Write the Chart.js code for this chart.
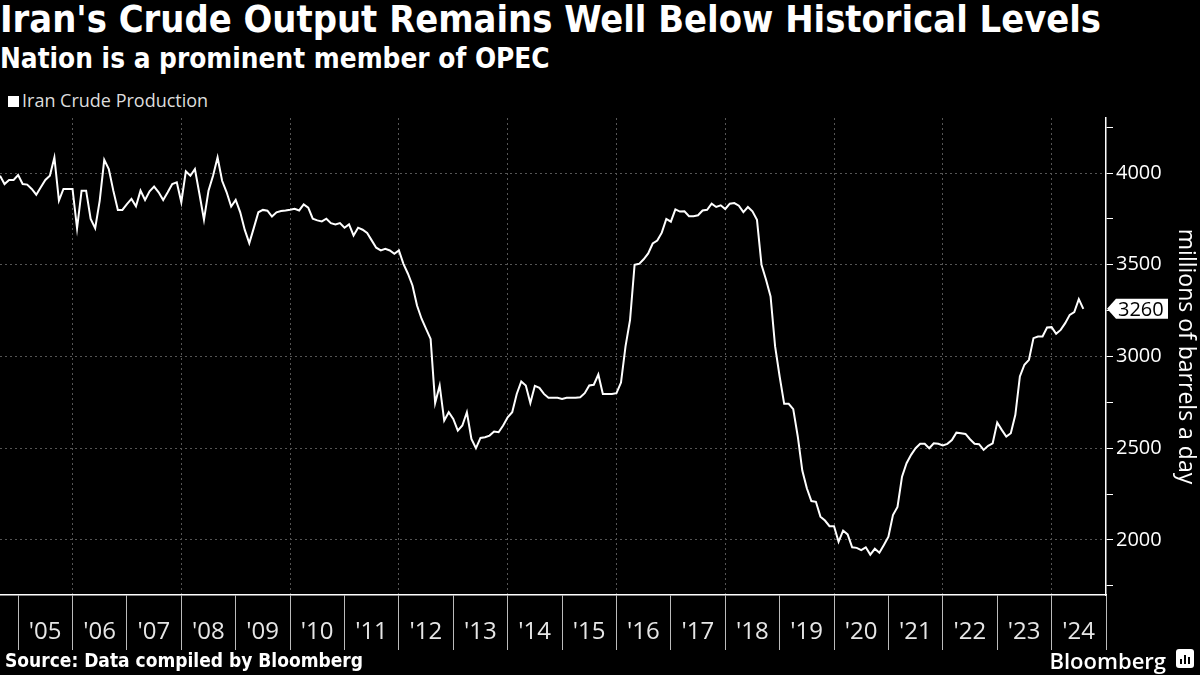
<!DOCTYPE html>
<html>
<head>
<meta charset="utf-8">
<script src="https://cdn.jsdelivr.net/npm/chart.js@4"></script>
<style>
  body { margin: 0; background: #000; width: 1200px; height: 675px; overflow: hidden; position: relative; color: #fff; font-family: "Open Sans", sans-serif; }
  .txt { position: absolute; white-space: nowrap; }
  #title { left: 0; top: -3px; font: bold 37.7px "DejaVu Sans"; font-stretch: condensed; }
  #subtitle { left: 0; top: 42px; font: bold 27.7px "DejaVu Sans"; font-stretch: condensed; }
  #legend { left: 8px; top: 88px; font-size: 18px; color: #ddd; }
  #legend span { display: inline-block; width: 11px; height: 11px; background: #fff; margin-right: 3px; }
  #source { left: 5px; top: 649px; font: bold 19px "DejaVu Sans"; font-stretch: condensed; }
  #brand { right: 34px; top: 645px; font: 600 22px "Open Sans"; }
  #logo { position: absolute; left: 1176px; top: 649px; width: 18px; height: 19px; background: #fff; border-radius: 3px; }
  #logo i { position: absolute; bottom: 4px; width: 2px; background: #000; }
  canvas { position: absolute; left: 0; top: 0; }
</style>
</head>
<body>
<div id="title" class="txt">Iran's Crude Output Remains Well Below Historical Levels</div>
<div id="subtitle" class="txt">Nation is a prominent member of OPEC</div>
<div id="legend" class="txt"><span></span>Iran Crude Production</div>
<canvas id="chart" width="1200" height="675"></canvas>
<div id="source" class="txt">Source: Data compiled by Bloomberg</div>
<div id="brand" class="txt">Bloomberg</div>
<div id="logo"><i style="left:4px;height:5px"></i><i style="left:8px;height:9px"></i><i style="left:12px;height:7px"></i></div>
<script>
// Monthly series, first point is Sep 2004
const startYear = 2004;
const startMonth = 9;
const production = [
  3985, 3940, 3962, 3962, 3989, 3940, 3937, 3913, 3882, 3922, 3962, 3985,
  4085, 3850, 3913, 3913, 3913, 3699, 3904, 3904, 3750, 3699, 3850, 4072,
  4022, 3904, 3799, 3799, 3831, 3859, 3819, 3904, 3853, 3900, 3926, 3895,
  3853, 3895, 3940, 3949, 3841, 4009, 3985, 4022, 3886, 3746, 3904, 3985,
  4085, 3958, 3895, 3817, 3853, 3786, 3690, 3618, 3701, 3786, 3799, 3795,
  3763, 3786, 3793, 3796, 3800, 3805, 3796, 3829, 3811, 3751, 3742, 3736,
  3751, 3727, 3720, 3727, 3702, 3720, 3660, 3702, 3691, 3673, 3633, 3593,
  3578, 3587, 3578, 3560, 3578, 3505, 3451, 3387, 3278, 3206, 3151, 3096,
  2746, 2842, 2651, 2696, 2660, 2596, 2624, 2696, 2551, 2500, 2556, 2560,
  2569, 2591, 2587, 2624, 2669, 2696, 2796, 2864, 2842, 2746, 2840, 2829,
  2796, 2775, 2775, 2775, 2769, 2775, 2775, 2775, 2778, 2800, 2842, 2846,
  2902, 2796, 2796, 2796, 2800, 2858, 3055, 3200, 3500, 3505, 3530, 3562,
  3616, 3632, 3675, 3750, 3735, 3802, 3790, 3791, 3765, 3765, 3770, 3796,
  3800, 3833, 3815, 3824, 3804, 3833, 3836, 3822, 3787, 3815, 3791, 3745,
  3500, 3418, 3327, 3055, 2891, 2742, 2742, 2713, 2564, 2378, 2282, 2212,
  2208, 2127, 2106, 2075, 2075, 1990, 2051, 2030, 1960, 1957, 1945, 1960,
  1920, 1952, 1930, 1973, 2018, 2136, 2180, 2345, 2418, 2464, 2500, 2524,
  2524, 2500, 2527, 2524, 2515, 2524, 2545, 2585, 2582, 2578, 2549, 2524,
  2522, 2491, 2513, 2527, 2640, 2600, 2564, 2582, 2682, 2891, 2955, 2982,
  3100, 3109, 3109, 3158, 3160, 3124, 3145, 3182, 3227, 3242, 3313, 3260
];
const yearLabels = ["'05", "'06", "'07", "'08", "'09", "'10", "'11", "'12", "'13", "'14",
  "'15", "'16", "'17", "'18", "'19", "'20", "'21", "'22", "'23", "'24"];
const yTicks = [1750, 2000, 2250, 2500, 2750, 3000, 3250, 3500, 3750, 4000, 4250];

const points = production.map((v, i) => ({ x: startYear + (startMonth - 1 + i) / 12, y: v }));
const lastValue = production[production.length - 1];

//Tag with the latest value on the right axis
const lastValueTag = {
  id: "lastValueTag",
  afterDraw(chart) {
    const ctx = chart.ctx;
    const y = chart.scales.y.getPixelForValue(lastValue);
    const x = chart.chartArea.right + 1;
    ctx.save();
    ctx.fillStyle = "#fff";
    ctx.beginPath();
    ctx.moveTo(x, y);
    ctx.lineTo(x + 9, y - 10);
    ctx.lineTo(x + 61, y - 10);
    ctx.lineTo(x + 61, y + 10);
    ctx.lineTo(x + 9, y + 10);
    ctx.closePath();
    ctx.fill();
    ctx.fillStyle = "#000";
    ctx.font = '20px "Open Sans"';
    ctx.textBaseline = "middle";
    ctx.fillText(String(lastValue), x + 11, y + 1);
    ctx.restore();
  }
};

const context = document.getElementById("chart").getContext("2d");
new Chart(context, {
  type: "line",
  data: {
    datasets: [{
      label: "Iran Crude Production",
      data: points,
      borderColor: "#fff",
      borderWidth: 2,
      pointRadius: 0,
      tension: 0,
      fill: false
    }]
  },
  options: {
    responsive: false,
    animation: false,
    layout: { padding: { top: 118, left: 0, right: 0, bottom: 0 } },
    plugins: { legend: { display: false }, tooltip: { enabled: false } },
    scales: {
      x: {
        type: "linear",
        min: startYear + (startMonth - 1) / 12,
        max: 2025,
        afterBuildTicks: (scale) => {
          scale.ticks = yearLabels.map((l, i) => ({ value: 2005 + i })).concat([{ value: 2025 }]);
        },
        afterFit: (scale) => { scale.height = 80; },
        ticks: {
          autoSkip: false,
          maxRotation: 0,
          color: "#e6e6e6",
          font: { family: "Open Sans", size: 24 },
          padding: -32,
          labelOffset: 27,
          callback: (value) => yearLabels[value - 2005] || ""
        },
        grid: {
          color: (c) => (c.tick && c.tick.value % 2 === 0 && c.tick.value < 2025) ? "#555" : "transparent",
          tickColor: "#bbb",
          tickLength: 55,
          lineWidth: 1
        },
        border: { color: "#fff", width: 1.5, dash: [2, 3] }
      },
      y: {
        position: "right",
        min: 1700,
        max: 4300,
        afterBuildTicks: (scale) => { scale.ticks = yTicks.map((v) => ({ value: v })); },
        afterFit: (scale) => { scale.width = 94; },
        ticks: {
          color: "#fff",
          font: { family: "Open Sans", size: 20 },
          padding: 3,
          callback: (value) => value % 500 === 0 ? String(value) : ""
        },
        grid: {
          color: (c) => (c.tick && c.tick.value % 500 === 0) ? "#555" : "transparent",
          tickColor: "#fff",
          tickLength: 7
        },
        border: { color: "#fff", width: 1.5, dash: [2, 3] },
        title: {
          display: true,
          text: "millions of barrels a day",
          color: "#fff",
          font: { family: "Open Sans", size: 23 },
          padding: { top: 1, bottom: 0 }
        }
      }
    }
  },
  plugins: [lastValueTag]
});
</script>
</body>
</html>
